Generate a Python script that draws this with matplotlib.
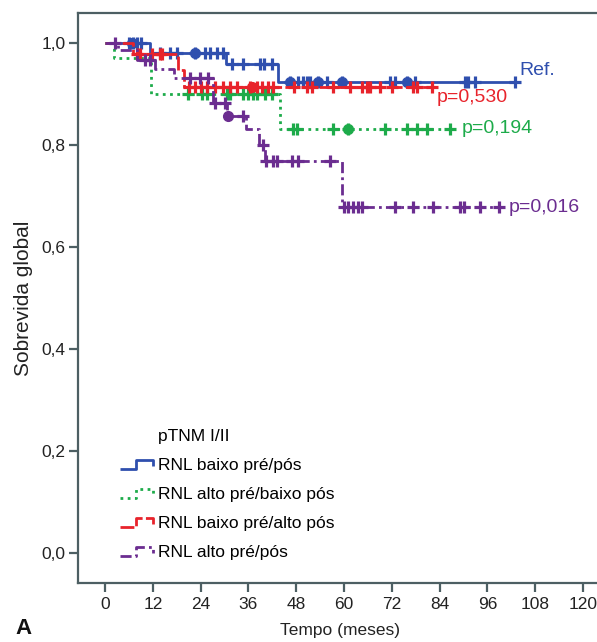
import numpy as np
import matplotlib
matplotlib.use("Agg")
import matplotlib.pyplot as plt
from matplotlib.lines import Line2D
from matplotlib.legend_handler import HandlerLine2D

plt.rcParams['font.family'] = ['Liberation Sans', 'DejaVu Sans']

# ---------------- data ----------------
blue_t = [0, 11.3, 30.4, 43.3, 103]
blue_s = [1.0, 0.981, 0.958, 0.924, 0.924]
blue_cens = [6, 7, 8, 9, 13.8, 16.3, 18, 22.6, 25, 26.4, 28, 29.6, 32, 34.6, 39, 40, 42,
             46.4, 48.5, 49.7, 50.7, 51.5, 53.5, 55.7, 59.5, 71.6, 72.8, 75.8, 77.8,
             90.4, 91.1, 92.9, 103]
blue_dots = [6.8, 22.6, 46.4, 53.5, 59.5, 75.8]

green_t = [0, 2.3, 11.5, 44, 87]
green_s = [1.0, 0.971, 0.900, 0.831, 0.831]
green_cens = [20.8, 24.4, 25.6, 30.6, 31.4, 34.6, 35.9, 37.2, 38.2, 40.2, 41.9,
              47.2, 48.2, 57.2, 61, 70.3, 75.8, 78.3, 80.8, 86.5]
green_dots = [61]

red_t = [0, 7, 18.3, 19.8, 82]
red_s = [1.0, 0.978, 0.947, 0.914, 0.914]
red_cens = [8, 8.8, 11.8, 13.8, 14.3, 21, 22.6, 24, 25.6, 27.6, 29.6, 31.4, 33.1, 36.4,
            38.2, 39.4, 40.9, 42.2, 47.5, 50.7, 52, 57.2, 61.5, 64.5, 65.8, 66.5, 69,
            72, 77.3, 78.3, 82]
red_dots = [37]

purple_t = [0, 3.3, 8, 12.5, 17.2, 27, 30.6, 35.3, 38.7, 40.2, 59.5, 99]
purple_s = [1.0, 0.986, 0.967, 0.949, 0.931, 0.882, 0.857, 0.831, 0.800, 0.769, 0.678, 0.678]
purple_cens = [2.5, 10, 11.3, 21.3, 23.8, 25.8, 27.6, 30.1, 34.6, 39.7, 40.5, 42.2, 43.2,
               47, 48.5, 56.5, 60, 61, 62.3, 63.5, 64.5, 72.8, 77.3, 82.3, 89, 90, 94.1, 99]
purple_dots = [30.9]

labels = ["RNL baixo pré/pós", "RNL alto pré/baixo pós",
          "RNL baixo pré/alto pós", "RNL alto pré/pós"]
pvals = ["Ref.", "p=0,530", "p=0,194", "p=0,016"]
xticks = [0, 12, 24, 36, 48, 60, 72, 84, 96, 108, 120]
yticks = [0.0, 0.2, 0.4, 0.6, 0.8, 1.0]

# ---------------- style ----------------
C_BLUE = '#2f4fae'
C_GREEN = '#1dab4a'
C_RED = '#e8232b'
C_PURPLE = '#6b2d90'
SPINE = '#4d5f63'

fig = plt.figure(figsize=(5.97, 6.42), dpi=100)
W, H = 597, 642
ax_l, ax_r, ax_t, ax_b = 78, 603, 13, 583
ax = fig.add_axes([ax_l / W, 1 - ax_b / H, (ax_r - ax_l) / W, (ax_b - ax_t) / H])
ax.set_xlim(-6.78, 125.0)
ax.set_ylim(-0.0588, 1.0588)


def surv_at(t_arr, s_arr, times):
    idx = np.searchsorted(np.asarray(t_arr), np.asarray(times), side='right') - 1
    return np.asarray(s_arr)[idx]


series = [
    (blue_t, blue_s, blue_cens, blue_dots, C_BLUE, '-'),
    (green_t, green_s, green_cens, green_dots, C_GREEN, (0, (1.0, 1.6))),
    (red_t, red_s, red_cens, red_dots, C_RED, (0, (5.0, 1.2))),
    (purple_t, purple_s, purple_cens, purple_dots, C_PURPLE, (0, (4.0, 1.5, 1.0, 1.5))),
]

handles = []
for t, s, cens, dots, col, ls in series:
    ln, = ax.step(t, s, where='post', color=col, lw=2.0, linestyle=ls,
                  solid_capstyle='butt', dash_capstyle='butt')
    handles.append(ln)
    ax.plot(cens, surv_at(t, s, cens), linestyle='none', marker='+', ms=8.5, mew=2.3,
            color=col)
    ax.plot(dots, surv_at(t, s, dots), linestyle='none', marker='o', ms=7, color=col)

# annotations
ax.text(104, 0.947, pvals[0], color=C_BLUE, fontsize=14, va='center', ha='left')
ax.text(83.3, 0.893, pvals[1], color=C_RED, fontsize=14, va='center', ha='left')
ax.text(89.5, 0.833, pvals[2], color=C_GREEN, fontsize=14, va='center', ha='left')
ax.text(101.3, 0.678, pvals[3], color=C_PURPLE, fontsize=14, va='center', ha='left')


class StepHandler(HandlerLine2D):
    def create_artists(self, legend, orig_handle, xdescent, ydescent, width,
                       height, fontsize, trans):
        xs = np.array([0, 0.5, 0.5, 1.0, 1.0]) * width - xdescent
        ys = np.array([0.1, 0.1, 0.85, 0.85, 0.35]) * height - ydescent
        line = Line2D(xs, ys)
        self.update_prop(line, orig_handle, legend)
        line.set_marker('None')
        line.set_linewidth(2.0)
        line.set_transform(trans)
        return [line]


leg = ax.legend(handles, labels, loc='upper left',
                bbox_to_anchor=((120 - ax_l) / (ax_r - ax_l), (ax_b - 458) / (ax_b - ax_t)),
                frameon=False, fontsize=12.5, handlelength=1.9, handletextpad=0.3,
                labelspacing=0.8, borderpad=0, borderaxespad=0,
                handler_map={Line2D: StepHandler()})
ax.text((158 - ax_l) / (ax_r - ax_l), (ax_b - 437) / (ax_b - ax_t), "pTNM I/II",
        transform=ax.transAxes, fontsize=12.5, va='center', ha='left')

# axes styling
for side in ['left', 'bottom', 'top']:
    ax.spines[side].set_color(SPINE)
    ax.spines[side].set_linewidth(1.6)
ax.spines['right'].set_visible(False)
ax.set_xticks(xticks)
ax.set_xticklabels([str(v) for v in xticks])
ax.set_yticks(yticks)
ax.set_yticklabels([f"{v:.1f}".replace('.', ',') for v in yticks])
ax.tick_params(axis='both', colors=SPINE, labelcolor='#222222', labelsize=12.5,
               width=1.6)
ax.tick_params(axis='x', length=6.5, pad=3.5)
ax.tick_params(axis='y', length=6.5, pad=2.5)
ax.set_xlabel("Tempo (meses)", fontsize=12.5, color='#222222', labelpad=8)
ax.set_ylabel("Sobrevida global", fontsize=15, color='#222222', labelpad=6)

fig.text(15 / W, 1 - 634 / H, "A", fontsize=16, fontweight='bold', color='#111111',
         ha='left', va='baseline')

fig.savefig("out.png", dpi=100)
